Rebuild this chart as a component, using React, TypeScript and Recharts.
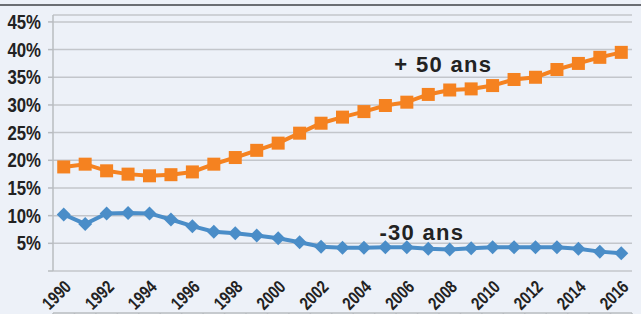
import { CartesianGrid, Line, LineChart, ReferenceDot, XAxis, YAxis } from "recharts";

const years = [
  1990, 1991, 1992, 1993, 1994, 1995, 1996, 1997, 1998, 1999, 2000, 2001, 2002, 2003,
  2004, 2005, 2006, 2007, 2008, 2009, 2010, 2011, 2012, 2013, 2014, 2015, 2016,
];
const plus50 = [
  18.8, 19.3, 18.1, 17.5, 17.2, 17.4, 17.9, 19.3, 20.5, 21.8, 23.1, 24.9, 26.7, 27.8,
  28.8, 29.9, 30.5, 31.9, 32.7, 32.9, 33.5, 34.6, 35.0, 36.4, 37.5, 38.6, 39.5,
];
const minus30 = [
  10.2, 8.5, 10.4, 10.5, 10.4, 9.3, 8.1, 7.1, 6.8, 6.4, 5.9, 5.2, 4.4, 4.2,
  4.2, 4.3, 4.3, 4.0, 3.9, 4.1, 4.3, 4.3, 4.3, 4.3, 4.0, 3.5, 3.2,
];
const yTicks = [0, 5, 10, 15, 20, 25, 30, 35, 40, 45];
const labelYears = [1990, 1992, 1994, 1996, 1998, 2000, 2002, 2004, 2006, 2008, 2010, 2012, 2014, 2016];

const ORANGE = "#f58220";
const BLUE = "#4a8dc8";
const TEXT = "#222222";
const GRID = "#c3c6cb";
const AXIS = "#b9bcc1";
const SANS = "'Liberation Sans', Arial, sans-serif";

const data = years.map((year, i) => ({ year, plus50: plus50[i], minus30: minus30[i] }));
// tick marks sit between the years
const bounds = [...years.map((y) => y - 0.5), years[years.length - 1] + 0.5];

const Square = (props: any) => {
  const { cx, cy } = props;
  if (cx == null || cy == null) return null;
  return <rect x={cx - 6.5} y={cy - 6.5} width={13} height={13} fill={ORANGE} />;
};

const Diamond = (props: any) => {
  const { cx, cy } = props;
  if (cx == null || cy == null) return null;
  const r = 7;
  return <polygon points={`${cx},${cy - r} ${cx + r},${cy} ${cx},${cy + r} ${cx - r},${cy}`} fill={BLUE} />;
};

// no narrow font installed -> squeeze Liberation Sans horizontally
const PctTick = (props: any) => {
  const { x, y, payload } = props;
  if (payload.value === 0) return null;
  return (
    <text
      transform={`translate(${x}, ${y}) scale(0.84, 1)`}
      textAnchor="end"
      dy={7}
      fontFamily={SANS}
      fontWeight="bold"
      fontSize={20}
      fill={TEXT}
    >
      {payload.value}%
    </text>
  );
};

const YearTick = (props: any) => {
  const { x, payload } = props;
  return (
    <text
      transform={`translate(${x + 8.5}, 288) rotate(-45) scale(0.8, 1)`}
      textAnchor="end"
      fontFamily={SANS}
      fontWeight="bold"
      fontSize={18}
      fill={TEXT}
    >
      {payload.value}
    </text>
  );
};

const annot = {
  position: "center" as const,
  fill: TEXT,
  fontSize: 22,
  fontWeight: "bold",
  fontFamily: SANS,
  letterSpacing: 1.3,
};

export default function App() {
  return (
    <div
      style={{
        position: "absolute",
        left: 0,
        top: 0,
        width: 641,
        height: 314,
        background: "#edf1f8",
        overflow: "hidden",
      }}
    >
      <div style={{ position: "absolute", left: 0, top: 4, width: 641, height: 2, background: "#6b6e73" }} />
      <LineChart width={641} height={314} data={data} margin={{ top: 15, right: 9, left: 0, bottom: 0 }}>
        <CartesianGrid horizontal vertical={false} stroke={GRID} strokeWidth={1.5} xAxisId="main" />
        <XAxis
          xAxisId="main"
          type="number"
          dataKey="year"
          domain={[1989.5, 2016.5]}
          ticks={bounds}
          tickFormatter={() => ""}
          height={1}
          axisLine={{ stroke: AXIS, strokeWidth: 1.5 }}
          tickLine={{ stroke: AXIS, strokeWidth: 1.5 }}
          tickSize={6}
          interval={0}
        />
        <XAxis
          xAxisId="labels"
          type="number"
          dataKey="year"
          domain={[1989.5, 2016.5]}
          ticks={labelYears}
          tick={<YearTick />}
          height={42}
          axisLine={false}
          tickLine={false}
          interval={0}
        />
        <YAxis
          type="number"
          domain={[0, 46.25]}
          ticks={yTicks}
          width={53}
          axisLine={{ stroke: AXIS, strokeWidth: 1.5 }}
          tickLine={{ stroke: AXIS, strokeWidth: 1.5 }}
          tickSize={5}
          tickMargin={7}
          interval={0}
          tick={<PctTick />}
        />
        <Line
          xAxisId="main"
          dataKey="minus30"
          stroke={BLUE}
          strokeWidth={4}
          dot={<Diamond />}
          activeDot={false}
          isAnimationActive={false}
        />
        <Line
          xAxisId="main"
          dataKey="plus50"
          stroke={ORANGE}
          strokeWidth={4}
          dot={<Square />}
          activeDot={false}
          isAnimationActive={false}
        />
        <ReferenceDot
          xAxisId="main"
          x={2007.7}
          y={37.4}
          r={0}
          fill="none"
          stroke="none"
          label={{ value: "+ 50 ans", ...annot }}
        />
        <ReferenceDot
          xAxisId="main"
          x={2006.7}
          y={7.0}
          r={0}
          fill="none"
          stroke="none"
          label={{ value: "-30 ans", ...annot }}
        />
      </LineChart>
    </div>
  );
}
